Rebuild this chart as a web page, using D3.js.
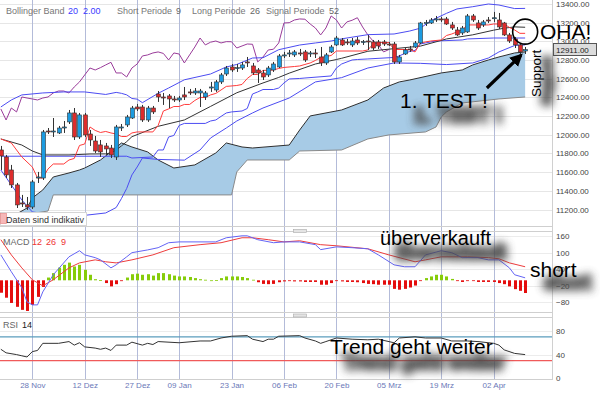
<!DOCTYPE html>
<html>
<head>
<meta charset="utf-8">
<script src="https://cdn.jsdelivr.net/npm/d3@7"></script>
<style>
  body { margin: 0; background: #fff; }
  svg { display: block; font-family: "Liberation Sans", Arial, sans-serif; }
</style>
</head>
<body>
<svg id="chart" width="600" height="393"></svg>
<script>
// time axis: trading-day index of each date label
var tickIdx = [6, 16, 26, 34, 44, 54, 64, 74, 84, 94];
var tickLabels = ["28 Nov", "12 Dez", "27 Dez", "09 Jan", "23 Jan", "06 Feb", "20 Feb", "05 Mrz", "19 Mrz", "02 Apr"];
var priceTicks = [11200, 11400, 11600, 11800, 12000, 12200, 12400, 12600, 12800, 13000, 13200, 13400];
var macdTicks = [160, 100, 40, -20, -80];
var rsiTicks = [80, 40, 0];
var lastPrice = 12911;

// daily candles
var open = [
  11837,11762,11623,11463,11270,11249,11227,11537,11537,12040,
  12030,12019,12072,12137,12233,11976,12212,12008,11933,11891,
  11880,11858,11762,12072,12105,12179,12297,12297,12158,12286,
  12436,12404,12415,12383,12372,12426,12458,12447,12447,12404,
  12500,12479,12565,12650,12725,12714,12714,12779,12736,12693,
  12661,12640,12693,12725,12843,12864,12854,12875,12886,12864,
  12875,12832,12768,12886,12961,13014,12993,12961,13014,12993,
  13003,12993,12993,12993,12971,12971,12779,12864,12918,12939,
  12982,13196,13196,13228,13239,13239,13175,13121,13089,13100,
  13271,13196,13175,13228,13249,13228,13196,13068,13025,12961,
  12896];
var high = [
  11880,11784,11677,11484,11356,11334,11516,11602,12051,12072,
  12179,12094,12147,12265,12286,12233,12233,12051,11987,11944,
  11912,11891,12105,12115,12212,12308,12329,12319,12308,12308,
  12468,12447,12436,12415,12415,12511,12490,12500,12490,12468,
  12565,12586,12661,12736,12757,12757,12779,12832,12768,12714,
  12693,12736,12779,12864,12886,12907,12907,12918,12907,12896,
  12918,12939,12875,12961,13057,13035,13025,13035,13046,13014,
  13068,13014,13014,13014,12993,12993,12854,12928,12950,13003,
  13207,13228,13249,13271,13260,13260,13207,13153,13164,13292,
  13292,13228,13228,13260,13314,13303,13207,13089,13046,12982,
  12939];
var low = [
  11623,11537,11430,11216,11227,11195,11206,11484,11516,12008,
  11976,12008,12019,12115,11944,11955,11976,11880,11805,11762,
  11784,11751,11730,12040,12083,12169,12254,12137,12137,12222,
  12351,12319,12286,12351,12351,12372,12426,12426,12297,12372,
  12458,12458,12543,12629,12672,12672,12693,12725,12640,12554,
  12586,12618,12672,12714,12821,12832,12832,12843,12779,12832,
  12821,12736,12747,12875,12950,12950,12961,12939,12961,12961,
  12907,12907,12918,12950,12950,12757,12757,12854,12886,12928,
  12971,13164,13185,13207,13207,13175,13121,13057,13068,13089,
  13207,13121,13153,13196,13207,13132,13057,12982,12928,12854,
  12864];
var close = [
  11773,11570,11463,11249,11259,11227,11495,11548,12030,12030,
  12040,12072,12083,12233,11976,12212,11998,11944,11826,11816,
  11848,11784,12083,12083,12190,12286,12276,12158,12286,12244,
  12404,12393,12383,12372,12393,12404,12447,12468,12468,12447,
  12511,12565,12640,12714,12693,12718,12747,12775,12661,12661,
  12618,12714,12757,12843,12854,12875,12886,12870,12800,12875,
  12864,12768,12854,12939,13035,12961,12990,13003,12982,12996,
  12995,12928,12950,12971,12968,12779,12832,12907,12915,12982,
  13196,13199,13228,13239,13236,13185,13142,13068,13142,13271,
  13228,13142,13207,13225,13252,13153,13068,13003,12961,12886,
  12911];

// indicator lines as [day index, value]
var bbUpper = [[0,12297],[2,12372],[4,12426],[8,12447],[12,12458],[16,12458],[20,12431],[22,12453],[23,12443],
  [24,12427],[25,12388],[26,12381],[27,12343],[30,12443],[32,12500],[35,12588],[40,12650],[43,12725],[45,12752],
  [48,12821],[50,12824],[53,12910],[57,12960],[60,12982],[63,13003],[65,13026],[70,13071],[75,13078],[78,13110],
  [80,13140],[82,13220],[85,13299],[87,13346],[90,13370],[93,13399],[95,13388],[98,13350],[100,13352]];
var bbMiddle = [[0,11955],[4,11890],[6,11826],[8,11784],[13,11784],[17,11794],[20,11795],[21,11806],[22,11837],
  [23,11880],[24,11926],[25,11979],[30,12090],[35,12158],[40,12303],[45,12449],[50,12554],[53,12613],[55,12659],
  [58,12718],[60,12757],[64,12805],[65,12818],[70,12893],[75,12921],[80,12948],[85,13025],[90,13069],[94,13119],
  [96,13140],[98,13154],[100,13150]];
var bbLower = [[0,11623],[2,11463],[4,11302],[6,11174],[10,11142],[15,11131],[20,11163],[22,11221],[23,11317],
  [24,11425],[25,11570],[26,11655],[27,11751],[30,11736],[35,11728],[38,11837],[40,11965],[43,12072],[45,12147],
  [48,12233],[50,12286],[55,12393],[60,12565],[65,12611],[70,12714],[75,12768],[80,12764],[85,12751],[90,12768],
  [93,12821],[95,12886],[98,12955],[100,12961]];
var kijun = [[0,11770],[24,11770],[25,11751],[29,11762],[30,11837],[31,11837],[32,11976],[33,11992],[34,12099],
  [35,12121],[39,12121],[40,12147],[41,12158],[42,12196],[43,12233],[44,12244],[46,12254],[47,12281],[48,12436],
  [49,12458],[50,12484],[52,12484],[53,12500],[54,12554],[55,12597],[57,12602],[58,12607],[63,12629],[64,12714],
  [65,12757],[67,12800],[68,12805],[70,12811],[75,12827],[76,12843],[77,12870],[78,12891],[79,12902],[80,12971],
  [81,12982],[82,12993],[83,13003],[88,13014],[89,13025],[94,13035],[100,13035]];
var tenkan = [[0,11955],[2,11912],[4,11762],[6,11655],[7,11537],[8,11537],[9,11634],[10,11687],[12,11687],
  [13,11730],[14,11746],[15,11885],[16,11901],[17,12083],[18,12046],[19,12024],[20,12035],[21,12019],[22,12008],
  [23,11981],[24,11981],[25,12019],[26,12030],[29,12030],[30,12099],[31,12254],[32,12276],[33,12302],[34,12302],
  [35,12324],[36,12324],[37,12367],[38,12399],[39,12399],[40,12426],[41,12442],[42,12479],[43,12517],[45,12527],
  [46,12538],[47,12602],[48,12645],[49,12645],[50,12688],[52,12693],[53,12709],[54,12720],[56,12730],[57,12736],
  [58,12752],[59,12768],[60,12795],[61,12827],[62,12837],[63,12848],[64,12896],[69,12896],[70,12907],[71,12971],
  [72,12987],[74,12987],[75,12912],[78,12912],[79,12886],[80,12982],[81,12993],[82,13003],[84,13014],[85,13062],
  [86,13078],[87,13100],[88,13121],[89,13175],[93,13175],[94,13185],[96,13185],[97,13148],[98,13121],[99,13085],
  [100,13085]];
var cloudTop = [[2,11120],[5,11216],[6,11323],[8,11409],[10,11548],[13,11591],[15,11623],[16,11644],[19,11730],
  [21,11816],[23,11912],[25,11869],[28,11816],[30,11730],[33,11644],[37,11677],[41,11805],[43,11912],[46,11869],
  [48,11858],[55,11890],[57,12051],[59,12201],[65,12265],[70,12372],[73,12500],[76,12565],[78,12586],[84,12661],
  [88,12693],[90,12747],[93,12800],[95,12832],[98,12875],[100,12886]];
var cloudBottom = [[2,11120],[9,11184],[10,11356],[44,11356],[45,11602],[47,11730],[55,11730],[57,11826],
  [65,11837],[70,11955],[74,11998],[81,12030],[83,12083],[84,12190],[85,12244],[88,12340],[95,12383],[100,12404]];

// MACD panel
var macdLine = [[0,92],[2,31],[4,-27],[5,-78],[6,-89],[7,-89],[8,-42],[10,20],[13,85],[15,107],[16,92],[18,82],
  [19,74],[21,45],[22,56],[24,85],[25,100],[28,110],[30,118],[32,136],[34,139],[41,139],[43,154],[46,161],[47,161],
  [49,147],[52,136],[54,139],[57,139],[60,129],[61,111],[64,121],[67,118],[70,114],[72,92],[75,56],[77,49],[79,49],
  [81,92],[84,107],[86,100],[88,82],[91,82],[93,74],[95,74],[97,45],[98,20],[100,9]];
var signalLine = [[0,147],[2,92],[4,45],[6,2],[8,-20],[10,2],[13,45],[15,63],[18,74],[20,67],[22,63],[25,74],
  [29,92],[33,118],[38,129],[42,136],[46,154],[48,154],[51,147],[54,139],[57,143],[61,129],[64,125],[70,114],
  [74,92],[79,67],[81,74],[84,85],[89,85],[93,82],[95,78],[97,63],[100,49]];
var hist = [
  -45,-63,-82,-96,-107,-111,-89,-60,-24,10,
  26,46,56,64,50,56,38,20,4,1,
  -10,-22,-14,-3,10,22,24,20,22,17,
  26,26,22,17,14,14,12,8,4,2,
  0,1,8,14,14,14,12,8,2,-7,
  -13,-14,-13,-7,-4,-3,-4,-4,-6,-6,
  -6,-16,-16,-10,-1,-4,-6,-6,-7,-10,
  -13,-14,-16,-16,-16,-31,-34,-31,-26,-19,
  -2,8,14,20,20,14,5,-1,-6,-1,
  -1,-6,-6,-6,-6,-10,-14,-22,-32,-38,
  -46];

// RSI panel
var rsi = [[0,49],[1,43],[3,40],[4,38],[5,36],[6,45],[7,47],[8,59],[9,59],[11,59],[13,62],[14,56],[15,60],
  [16,53],[18,51],[19,49],[20,51],[21,47],[22,56],[24,56],[25,61],[27,56],[28,59],[29,57],[30,62],[34,60],
  [38,63],[40,63],[42,68],[44,71],[47,72],[48,66],[50,62],[51,66],[52,66],[53,71],[57,72],[58,68],[60,63],
  [61,59],[62,62],[64,68],[67,66],[70,65],[72,66],[75,60],[76,68],[79,70],[81,68],[84,68],[86,63],[89,63],
  [91,62],[94,59],[95,56],[96,48],[98,42],[100,40]];
var rsiLevels = [70, 30];

var svg = d3.select("#chart");
var right = 552;

var x = d3.scaleLinear().domain([0, 100]).range([0.84, 525.14]);
var y = d3.scaleLinear().domain([11200, 13400]).range([209.5, 3.9]);
var yM = d3.scaleLinear().domain([-80, 160]).range([302.4, 236.1]);
var yR = d3.scaleLinear().domain([0, 80]).range([378.3, 330.9]);

var defs = svg.append("defs");
defs.append("clipPath").attr("id", "clipMain").append("rect").attr("x", 0).attr("y", 0).attr("width", right).attr("height", 226);
defs.append("clipPath").attr("id", "clipMacd").append("rect").attr("x", 0).attr("y", 232).attr("width", right).attr("height", 80);
defs.append("clipPath").attr("id", "clipRsi").append("rect").attr("x", 0).attr("y", 318).attr("width", right).attr("height", 61);
defs.append("filter").attr("id", "soft")
    .attr("x", "-30%").attr("y", "-80%").attr("width", "160%").attr("height", "260%")
  .append("feGaussianBlur").attr("stdDeviation", 4.5);
defs.append("marker").attr("id", "head")
    .attr("viewBox", "0 0 10 10").attr("refX", 8).attr("refY", 5)
    .attr("markerWidth", 4).attr("markerHeight", 4).attr("orient", "auto")
  .append("path").attr("d", "M0,0L10,5L0,10z").attr("fill", "#000");

svg.append("rect").attr("width", 600).attr("height", 393).attr("fill", "#fff");

// grid
var grid = svg.append("g");
grid.selectAll("line.hp").data(priceTicks).enter().append("line")
    .attr("x1", 0).attr("x2", right)
    .attr("y1", function(d) { return Math.round(y(d)) + 0.5; })
    .attr("y2", function(d) { return Math.round(y(d)) + 0.5; })
    .attr("stroke", "#e6e6e6");
grid.selectAll("line.hm").data(macdTicks).enter().append("line")
    .attr("x1", 0).attr("x2", right)
    .attr("y1", function(d) { return Math.round(yM(d)) + 0.5; })
    .attr("y2", function(d) { return Math.round(yM(d)) + 0.5; })
    .attr("stroke", "#ececec");
grid.selectAll("line.hr").data([80, 40]).enter().append("line")
    .attr("x1", 0).attr("x2", right)
    .attr("y1", function(d) { return Math.round(yR(d)) + 0.5; })
    .attr("y2", function(d) { return Math.round(yR(d)) + 0.5; })
    .attr("stroke", "#ececec");
grid.selectAll("line.v").data(tickIdx).enter().append("line")
    .attr("x1", function(d) { return Math.round(x(d)) + 0.5; })
    .attr("x2", function(d) { return Math.round(x(d)) + 0.5; })
    .attr("y1", 0).attr("y2", 379)
    .attr("stroke", "#b3bbd9");

// panel frames
[226.5, 231.5, 312.5, 317.5, 379.5].forEach(function(v) {
  svg.append("line").attr("x1", 0).attr("x2", right).attr("y1", v).attr("y2", v).attr("stroke", "#cfcfcf");
});
svg.append("line").attr("x1", right + 0.5).attr("x2", right + 0.5).attr("y1", 0).attr("y2", 380).attr("stroke", "#d0d0d0");
[229.5, 314].forEach(function(v) {
  svg.append("rect").attr("x", 293.5).attr("y", v).attr("width", 13).attr("height", 3)
     .attr("fill", "#e4e4e4").attr("stroke", "#aaa").attr("stroke-width", 0.6);
});

var line = d3.line().x(function(d) { return x(d[0]); }).y(function(d) { return y(d[1]); });
var main = svg.append("g").attr("clip-path", "url(#clipMain)");

// Ichimoku cloud
var cloudPoly = cloudTop.concat(cloudBottom.slice().reverse());
main.append("path").attr("d", line(cloudPoly) + "Z").attr("fill", "#a7cbe6").attr("stroke", "none");
main.append("path").attr("d", line(cloudBottom)).attr("fill", "none").attr("stroke", "#8a8a8a").attr("stroke-width", 1);
main.append("path").attr("d", line(cloudTop)).attr("fill", "none").attr("stroke", "#2f2f2f").attr("stroke-width", 1);

// lagging span: close shifted 26 days back
var chikou = d3.range(26, close.length).map(function(i) { return [i - 26, close[i]]; });

[[chikou, "#9a3c9a"], [bbUpper, "#4c4cf2"], [bbLower, "#4c4cf2"], [kijun, "#4c4cf2"],
 [bbMiddle, "#333"], [tenkan, "#ff3b3b"]].forEach(function(s) {
  main.append("path").attr("d", line(s[0])).attr("fill", "none")
      .attr("stroke", s[1]).attr("stroke-width", 1);
});

// candles
var candles = d3.range(close.length).map(function(i) {
  return {i: i, o: open[i], h: high[i], l: low[i], c: close[i]};
});
var cg = main.append("g");
cg.selectAll("line.wick").data(candles).enter().append("line")
    .attr("x1", function(d) { return Math.round(x(d.i)) + 0.5; })
    .attr("x2", function(d) { return Math.round(x(d.i)) + 0.5; })
    .attr("y1", function(d) { return y(d.h); })
    .attr("y2", function(d) { return y(d.l); })
    .attr("stroke", "#333").attr("stroke-width", 1);
cg.selectAll("rect.body").data(candles).enter().append("rect")
    .attr("x", function(d) { return Math.round(x(d.i)) - 1.5; })
    .attr("width", 4)
    .attr("y", function(d) { return y(Math.max(d.o, d.c)); })
    .attr("height", function(d) { return Math.max(1, Math.abs(y(d.o) - y(d.c))); })
    .attr("fill", function(d) { return d.c >= d.o ? "#1c9be0" : "#dd2c2c"; })
    .attr("stroke", "#333").attr("stroke-width", 0.6);

// note box bottom-left
svg.append("rect").attr("x", 0.5).attr("y", 212.5).attr("width", 86).attr("height", 13)
   .attr("fill", "#fff").attr("stroke", "#d6d6d6");
svg.append("rect").attr("x", 0.5).attr("y", 213.5).attr("width", 6).attr("height", 10)
   .attr("fill", "#f6b8b8").attr("stroke", "#e58a8a").attr("stroke-width", 0.7);
svg.append("text").attr("x", 6).attr("y", 223).attr("font-size", 9).attr("fill", "#333").text("Daten sind indikativ");

// MACD
var macd = svg.append("g").attr("clip-path", "url(#clipMacd)");
macd.selectAll("rect").data(hist).enter().append("rect")
    .attr("x", function(d, i) { return Math.round(x(i)) - 1; })
    .attr("width", 3)
    .attr("y", function(d) { return Math.min(yM(d), yM(0)); })
    .attr("height", function(d) { return Math.max(0.8, Math.abs(yM(d) - yM(0))); })
    .attr("fill", function(d) { return d >= 0 ? "#86cc0a" : "#e40d0d"; });
var lineM = d3.line().x(function(d) { return x(d[0]); }).y(function(d) { return yM(d[1]); });
macd.append("path").attr("d", lineM(signalLine)).attr("fill", "none").attr("stroke", "#ee3c3c").attr("stroke-width", 1);
macd.append("path").attr("d", lineM(macdLine)).attr("fill", "none").attr("stroke", "#6464f5").attr("stroke-width", 1);

// RSI
var rsiG = svg.append("g").attr("clip-path", "url(#clipRsi)");
rsiG.selectAll("line.lvl").data(rsiLevels).enter().append("line")
    .attr("x1", 0).attr("x2", right)
    .attr("y1", function(d) { return yR(d); })
    .attr("y2", function(d) { return yR(d); })
    .attr("stroke", function(d) { return d === 70 ? "#5b9dbd" : "#f05a5a"; })
    .attr("stroke-width", 1.2);
var lineR = d3.line().x(function(d) { return x(d[0]); }).y(function(d) { return yR(d[1]); });
rsiG.append("path").attr("d", lineR(rsi)).attr("fill", "none").attr("stroke", "#333").attr("stroke-width", 1);

// axes
function styleAxis(g, color, size) {
  g.select(".domain").remove();
  g.attr("font-family", null).attr("font-size", size);
  g.selectAll("text").attr("fill", color);
}
svg.append("g").attr("transform", "translate(" + right + ",0)")
   .call(d3.axisRight(y).tickValues(priceTicks).tickSize(0).tickPadding(4).tickFormat(d3.format(".2f")))
   .call(styleAxis, "#444", 8);
svg.append("g").attr("transform", "translate(" + right + ",0)")
   .call(d3.axisRight(yM).tickValues(macdTicks).tickSize(0).tickPadding(4))
   .call(styleAxis, "#444", 8);
svg.append("g").attr("transform", "translate(" + right + ",0)")
   .call(d3.axisRight(yR).tickValues(rsiTicks).tickSize(0).tickPadding(4))
   .call(styleAxis, "#444", 8);
svg.append("g").attr("transform", "translate(0,379.5)")
   .call(d3.axisBottom(x).tickValues(tickIdx).tickSize(0).tickPadding(3)
     .tickFormat(function(d, i) { return tickLabels[i]; }))
   .call(styleAxis, "#6a78b8", 8);

// last price tag
svg.append("rect").attr("x", 553.5).attr("y", Math.round(y(lastPrice)) - 6.5).attr("width", 43).attr("height", 12)
   .attr("fill", "#dcdcdc").attr("stroke", "#555");
svg.append("text").attr("x", 556).attr("y", y(lastPrice) + 3).attr("font-size", 8).attr("fill", "#222")
   .text(d3.format(".2f")(lastPrice));

// legends
function legend(xp, yp, parts) {
  var t = svg.append("text").attr("x", xp).attr("y", yp).attr("font-size", 9);
  parts.forEach(function(p) {
    t.append("tspan").attr("x", p[0]).attr("fill", p[2]).text(p[1]);
  });
}
legend(6, 14, [[6, "Bollinger Band", "#777"], [68, "20", "#3a3aff"], [83, "2.00", "#3a3aff"],
  [117, "Short Periode", "#777"], [176, "9", "#666"], [192, "Long Periode", "#777"], [250, "26", "#666"],
  [266, "Signal Periode", "#777"], [329, "52", "#666"]]);
legend(3, 245, [[3, "MACD", "#666"], [32, "12", "#e33"], [46, "26", "#e33"], [61, "9", "#e33"]]);
legend(3, 328, [[3, "RSI", "#666"], [22, "14", "#222"]]);

// hand-drawn annotations with blurred drop shadows
function note(txt, xp, yp, size, dx, dy, rot) {
  var tr = "translate(" + xp + "," + yp + ")" + (rot ? " rotate(" + rot + ")" : "");
  svg.append("text").attr("transform", "translate(" + dx + "," + dy + ") " + tr)
     .attr("font-size", size).attr("fill", "#4a4a4a").attr("stroke", "#4a4a4a").attr("stroke-width", 4)
     .attr("opacity", 0.9).attr("filter", "url(#soft)").text(txt);
  svg.append("text").attr("transform", tr).attr("font-size", size).attr("fill", "#000").text(txt);
}
note("1. TEST !", 400, 108, 21, 14, 14);
note("Support", 541, 97, 13.5, 10, 8, -90);
note("überverkauft", 380, 244.5, 20, 15, 14);
note("short", 530, 277, 21, 14, 12);
note("Trend geht weiter", 330, 354, 21, 12, 15);
svg.append("text").attr("x", 540).attr("y", 39).attr("font-size", 21).attr("fill", "#000").text("OHA!");

svg.append("circle").attr("cx", x(100)).attr("cy", y(13103)).attr("r", 12.5)
   .attr("fill", "none").attr("stroke", "#000").attr("stroke-width", 1.6);
svg.append("line").attr("x1", x(92.7)).attr("y1", y(12500)).attr("x2", x(99.2)).attr("y2", y(12850))
   .attr("stroke", "#000").attr("stroke-width", 3.2).attr("marker-end", "url(#head)");
</script>
</body>
</html>
